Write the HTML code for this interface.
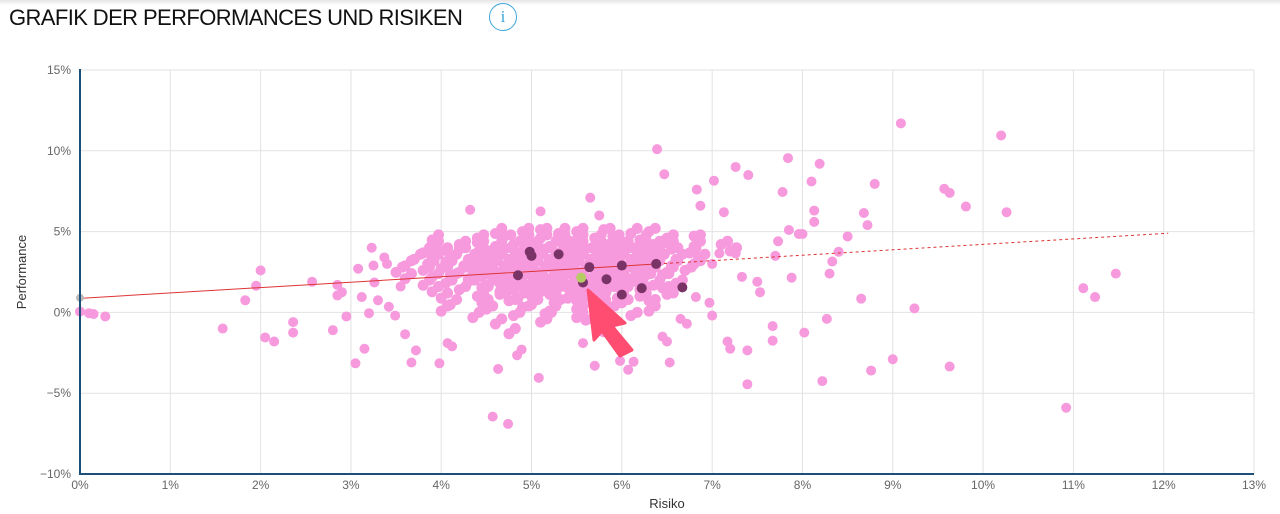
<!DOCTYPE html>
<html><head><meta charset="utf-8">
<style>
html,body{margin:0;padding:0;background:#fff;width:1280px;height:514px;overflow:hidden;font-family:"Liberation Sans",sans-serif}
#topbar{position:absolute;left:0;top:0;width:1280px;height:5px;background:linear-gradient(#e4e4e4,#fff)}
#title{position:absolute;left:9px;top:5px;font-size:22px;color:#111;letter-spacing:-0.6px}
#info{position:absolute;left:489px;top:3px;width:26px;height:26px;border:1.5px solid #3aa6dc;border-radius:50%;color:#3aa6dc;font-size:17px;text-align:center;line-height:26px;font-family:"Liberation Serif",serif}
svg{position:absolute;left:0;top:0}
</style></head><body>
<div id="topbar"></div>
<div id="title">GRAFIK DER PERFORMANCES UND RISIKEN</div>
<div id="info">i</div>
<svg id="chart" width="1280" height="514"></svg>
<script>
const xTicks=[0,1,2,3,4,5,6,7,8,9,10,11,12,13];
const yTicks=[-10,-5,0,5,10,15];
const outRisk=[0,0.1,0.15,0.28,1.58,1.83,1.95,2.0,2.05,2.15,2.36,2.36,2.57,2.8,2.85,2.85,2.9,2.95,3.05,3.08,3.15,3.12,3.2,3.23,3.25,3.26,3.3,3.37,3.4,3.42,3.49,3.55,3.6,3.67,3.72,3.98,4.07,4.12,4.32,4.57,4.74,4.63,4.84,4.89,5.08,5.1,5.57,5.65,5.7,5.75,5.98,6.07,6.13,6.39,6.47,6.53,6.83,6.87,7.02,7.13,7.26,7.4,7.2,7.39,7.39,7.84,7.78,7.96,8.02,8.1,8.13,8.19,8.22,8.27,8.8,8.68,8.72,8.65,8.76,9.0,9.09,9.24,9.57,9.63,9.63,9.81,10.2,10.26,10.92,11.11,11.24,11.47,7.0,7.08,7.33,7.5,7.53,7.67,7.67,7.7,7.73,7.85,7.88,8.0,8.13,8.3,8.33,8.4,8.5,7.26,7.17,6.97,7.0,6.82,6.72,6.65,6.45,6.5];
const outPerf=[0.05,-0.05,-0.1,-0.25,-1.0,0.75,1.65,2.6,-1.55,-1.8,-0.6,-1.25,1.9,-1.1,1.7,1.05,1.25,-0.25,-3.15,2.7,-2.25,0.95,-0.05,4.0,2.9,1.85,0.75,3.4,3.0,0.35,-0.2,1.6,-1.35,-3.1,-2.35,-3.15,-1.9,-2.1,6.35,-6.45,-6.9,-3.5,-2.65,-2.3,-4.05,6.25,-1.9,7.1,-3.3,6.0,-3.0,-3.55,-3.05,10.1,8.55,-3.1,7.6,6.6,8.15,6.2,9.0,8.5,-2.25,-2.35,-4.45,9.55,7.45,4.85,-1.25,8.1,6.3,9.2,-4.25,-0.4,7.95,6.15,5.4,0.85,-3.6,-2.9,11.7,0.25,7.65,7.4,-3.35,6.55,10.95,6.2,-5.9,1.5,0.95,2.4,3.0,3.65,2.2,1.9,1.25,-0.85,-1.75,3.5,4.4,5.1,2.15,4.85,5.6,2.4,3.15,3.75,4.7,3.65,-1.8,0.6,-0.2,0.95,-0.7,-0.4,-1.5,-1.8];
const rowPerf=[5.0,4.6,4.2,3.8,3.4,3.0,2.6,2.2,1.8,1.4,1.0,0.6,0.2,-0.2,-0.6,-1.2];
const rowRisk=[
[4.6,4.9,5.1,5.3,5.5,5.8,6.1,6.3],
[3.9,4.4,4.7,4.9,5.1,5.3,5.5,5.7,5.9,6.2,6.5,6.8],
[3.9,4.2,4.4,4.6,4.8,5.0,5.2,5.35,5.5,5.7,5.85,6.0,6.2,6.35,6.5,6.8,7.1],
[3.8,4.0,4.2,4.4,4.55,4.7,4.85,5.0,5.15,5.3,5.45,5.6,5.75,5.9,6.05,6.2,6.35,6.55,6.75,7.2],
[3.7,3.9,4.1,4.3,4.45,4.6,4.75,4.9,5.05,5.2,5.35,5.5,5.65,5.8,5.95,6.1,6.25,6.4,6.6,6.85],
[3.6,3.85,4.05,4.25,4.4,4.55,4.7,4.85,5.0,5.15,5.3,5.45,5.6,5.75,5.9,6.05,6.2,6.35,6.55,6.8],
[3.5,3.8,4.0,4.2,4.35,4.5,4.65,4.8,4.95,5.1,5.25,5.4,5.55,5.7,5.85,6.0,6.15,6.3,6.5,6.7],
[3.6,3.9,4.1,4.3,4.45,4.6,4.75,4.9,5.05,5.2,5.35,5.5,5.65,5.8,5.95,6.1,6.25,6.45],
[3.8,4.05,4.3,4.5,4.65,4.8,4.95,5.1,5.25,5.4,5.55,5.7,5.85,6.0,6.15,6.35,6.6],
[3.9,4.2,4.45,4.65,4.8,4.95,5.1,5.25,5.4,5.55,5.7,5.85,6.0,6.2,6.45],
[4.0,4.4,4.65,4.85,5.0,5.2,5.4,5.55,5.75,5.95,6.2,6.5],
[4.1,4.45,4.75,5.0,5.25,5.5,5.75,6.0,6.3],
[4.0,4.5,4.9,5.2,5.5,5.85,6.3],
[4.35,4.8,5.15,5.5,6.1],
[4.6,5.1,5.6],
[4.75,5.8]];
const darkRisk=[4.98,5.0,4.85,5.3,5.64,5.57,5.83,6.0,6.0,6.22,6.38,6.67];
const darkPerf=[3.75,3.5,2.3,3.6,2.8,1.85,2.05,2.9,1.1,1.5,3.0,1.55];
const greenRisk=[5.55], greenPerf=[2.15];
const grayRisk=[0.0], grayPerf=[0.9];
const trendRisk=[0,6.4,12.05], trendPerf=[0.87,3.0,4.9];

const NS='http://www.w3.org/2000/svg';
const svg=document.getElementById('chart');
const X0=80,X1=1254,Y0=474,Y1=70;
const xs=v=>X0+(v-0)/13*(X1-X0);
const ys=v=>Y0-(v+10)/25*(Y0-Y1);
function mk(t,a,p){const e=document.createElementNS(NS,t);for(const k in a)e.setAttribute(k,a[k]);(p||svg).appendChild(e);return e;}
xTicks.forEach(t=>{
  const l=mk('line',{x1:xs(t),x2:xs(t),y1:Y1,y2:Y0,stroke:'#e2e2e2','stroke-width':1});
  
  
  const tx=mk('text',{x:xs(t),y:489,'text-anchor':'middle','font-size':12,fill:'#666'});
  tx.textContent=t+'%';
  
  
});
yTicks.forEach(t=>{
  const l=mk('line',{x1:X0,x2:X1,y1:ys(t),y2:ys(t),stroke:'#e2e2e2','stroke-width':1});
  
  
  const tx=mk('text',{x:71,y:ys(t)+4,'text-anchor':'end','font-size':12,fill:'#666'});
  tx.textContent=(t<0?'\u2212':'')+Math.abs(t)+'%';
  
  
});
function dot(r,p,c,rad,name){
  const d=mk('circle',{cx:xs(r),cy:ys(p),r:rad,fill:c});
  
  
}
outRisk.forEach((r,i)=>dot(r,outPerf[i],'#f799dd',5,'fund-point'));
rowPerf.forEach((p,i)=>rowRisk[i].forEach((r,j)=>{
  dot(r,p+((j%3)-1)*0.12,'#f799dd',5.5,'fund-point');
  dot(r+0.07,p+0.2,'#f799dd',5.5,'fund-point');
}));
const tl=mk('line',{x1:xs(trendRisk[0]),y1:ys(trendPerf[0]),x2:xs(trendRisk[1]),y2:ys(trendPerf[1]),stroke:'#d33','stroke-width':1});


const td=mk('line',{x1:xs(trendRisk[1]),y1:ys(trendPerf[1]),x2:xs(trendRisk[2]),y2:ys(trendPerf[2]),stroke:'#d33','stroke-width':1,'stroke-dasharray':'3,3'});


darkRisk.forEach((r,i)=>dot(r,darkPerf[i],'#7a3366',5,'highlight-point'));
greenRisk.forEach((r,i)=>dot(r,greenPerf[i],'#b5cc66',5,'selected-fund-point'));
grayRisk.forEach((r,i)=>dot(r,grayPerf[i],'#bbbbbb',4,'benchmark-point'));
const ax=mk('line',{x1:X0,x2:X0,y1:Y1-1,y2:Y0+1,stroke:'#1d4f7a','stroke-width':2});


const bx=mk('line',{x1:X0,x2:X1,y1:Y0,y2:Y0,stroke:'#1d4f7a','stroke-width':2});


const ar=mk('polygon',{points:'588,290 625,323 612,326 632,350 620,356 602,331 594,340',fill:'#ff4d72','stroke':'#ff4d72','stroke-width':3,'stroke-linejoin':'round'});


const xt=mk('text',{x:667,y:508,'text-anchor':'middle','font-size':13,fill:'#333'});
xt.textContent='Risiko';


const yt=mk('text',{x:0,y:0,'text-anchor':'middle','font-size':13,fill:'#333',transform:'translate(26,272) rotate(-90)'});
yt.textContent='Performance';


</script>
</body></html>
